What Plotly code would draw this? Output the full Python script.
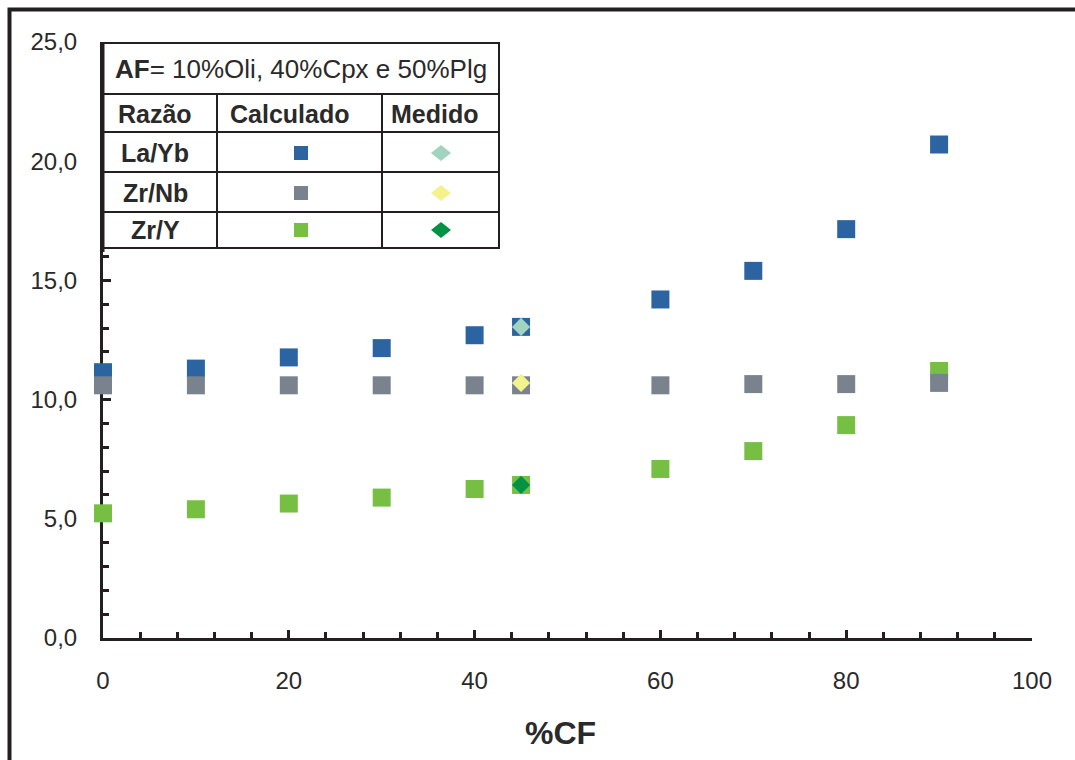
import plotly.graph_objects as go

# %CF (cristalização fracionada) steps
cf = [0, 10, 20, 30, 40, 45, 60, 70, 80, 90]

# calculated ratios
la_yb_calc = [11.15, 11.3, 11.77, 12.16, 12.7, 13.05, 14.2, 15.4, 17.15, 20.7]
zr_nb_calc = [10.6, 10.6, 10.6, 10.6, 10.6, 10.6, 10.6, 10.65, 10.65, 10.7]
zr_y_calc = [5.23, 5.40, 5.64, 5.89, 6.25, 6.42, 7.09, 7.84, 8.93, 11.2]

# measured ratios
cf_med = [45]
la_yb_med = [13.05]
zr_nb_med = [10.7]
zr_y_med = [6.42]

x_ticks = [0, 20, 40, 60, 80, 100]
y_ticks = [0, 5, 10, 15, 20, 25]

BLUE = "#2B64A0"
GRAY = "#7A838D"
GREEN = "#76BF43"
TEAL = "#A1D4C0"
YELLOW = "#F4F28C"
DKGREEN = "#009245"
INK = "#231F20"
TXT = "#2A2A2A"
FONT = "Liberation Sans, Arial, sans-serif"

W, H = 1075, 760
ML, MR, MT, MB = 103, 43, 42, 122
PW, PH = W - ML - MR, H - MT - MB


def fx(px):
    return (px - ML) / PW


def fy(py):
    return (H - MB - py) / PH


fig = go.Figure()

sq = dict(symbol="square", size=18)
fig.add_trace(go.Scatter(x=cf, y=la_yb_calc, mode="markers", cliponaxis=False,
                         marker=dict(color=BLUE, **sq), name="La/Yb calculado"))
fig.add_trace(go.Scatter(x=cf, y=zr_y_calc, mode="markers", cliponaxis=False,
                         marker=dict(color=GREEN, **sq), name="Zr/Y calculado"))
fig.add_trace(go.Scatter(x=cf, y=zr_nb_calc, mode="markers", cliponaxis=False,
                         marker=dict(color=GRAY, **sq), name="Zr/Nb calculado"))

dm = dict(symbol="diamond", size=14)
fig.add_trace(go.Scatter(x=cf_med, y=la_yb_med, mode="markers", cliponaxis=False,
                         marker=dict(color=TEAL, **dm), name="La/Yb medido"))
fig.add_trace(go.Scatter(x=cf_med, y=zr_nb_med, mode="markers", cliponaxis=False,
                         marker=dict(color=YELLOW, **dm), name="Zr/Nb medido"))
fig.add_trace(go.Scatter(x=cf_med, y=zr_y_med, mode="markers", cliponaxis=False,
                         marker=dict(color=DKGREEN, **dm), name="Zr/Y medido"))

shapes = []
annotations = []

# outer frame (runs off the right and bottom edges)
shapes.append(dict(type="rect", xref="paper", yref="paper",
                   x0=fx(9.5), x1=fx(W + 40), y0=fy(H + 40), y1=fy(9.5),
                   line=dict(color=INK, width=4), fillcolor="rgba(0,0,0,0)", layer="above"))

# key table
tl, tr = 103, 499
c1, c2 = 217, 382
rows = [43, 94, 132, 172, 212, 248]
shapes.append(dict(type="rect", xref="paper", yref="paper",
                   x0=fx(tl), x1=fx(tr), y0=fy(rows[-1]), y1=fy(rows[0]),
                   fillcolor="white", line=dict(color=INK, width=2), layer="above"))
for r in rows[1:-1]:
    shapes.append(dict(type="line", xref="paper", yref="paper",
                       x0=fx(tl), x1=fx(tr), y0=fy(r), y1=fy(r),
                       line=dict(color=INK, width=2), layer="above"))
for c in (c1, c2):
    shapes.append(dict(type="line", xref="paper", yref="paper",
                       x0=fx(c), x1=fx(c), y0=fy(rows[-1]), y1=fy(rows[1]),
                       line=dict(color=INK, width=2), layer="above"))
# left border of the table, heavier like the axis
shapes.append(dict(type="line", xref="paper", yref="paper",
                   x0=fx(tl), x1=fx(tl), y0=fy(rows[-1] + 4), y1=fy(rows[0]),
                   line=dict(color=INK, width=3), layer="above"))


def txt(x, y, s, size=25, bold=False):
    annotations.append(dict(xref="paper", yref="paper", x=fx(x), y=fy(y),
                            text=f"<b>{s}</b>" if bold else s, showarrow=False,
                            xanchor="center", yanchor="middle",
                            font=dict(family=FONT, size=size, color=TXT)))


txt(301, 69, "<b>AF</b>= 10%Oli, 40%Cpx e 50%Plg", size=26)
txt(155, 114, "Razão", bold=True)
txt(289, 114, "Calculado", bold=True)
txt(435, 114, "Medido", bold=True)

key_rows = [("La/Yb", BLUE, TEAL, 153), ("Zr/Nb", GRAY, YELLOW, 193), ("Zr/Y", GREEN, DKGREEN, 230)]
for label, csq, cdm, yy in key_rows:
    txt(155, yy, label, bold=True)
    shapes.append(dict(type="rect", xref="paper", yref="paper",
                       xsizemode="pixel", ysizemode="pixel",
                       xanchor=fx(301), yanchor=fy(yy),
                       x0=-7, x1=7, y0=-7, y1=7,
                       fillcolor=csq, line=dict(width=0), layer="above"))
    shapes.append(dict(type="path", xref="paper", yref="paper",
                       xsizemode="pixel", ysizemode="pixel",
                       xanchor=fx(441), yanchor=fy(yy),
                       path="M -10 0 L 0 8 L 10 0 L 0 -8 Z",
                       fillcolor=cdm, line=dict(width=0), layer="above"))

# x-axis title
txt(560, 733, "%CF", size=32, bold=True)

axis_common = dict(
    showline=True, linecolor=INK, linewidth=3, mirror=False,
    showgrid=False, zeroline=False,
    ticks="inside", ticklen=8, tickwidth=3, tickcolor=INK,
    tickfont=dict(family=FONT, size=24, color=TXT),
    layer="below traces",
)

fig.update_layout(
    width=W, height=H,
    margin=dict(l=ML, r=MR, t=MT, b=MB),
    paper_bgcolor="white", plot_bgcolor="white",
    showlegend=False,
    separators=",.",
    shapes=shapes, annotations=annotations,
    xaxis=dict(range=[0, 100], tickvals=x_ticks, ticktext=[str(v) for v in x_ticks],
               minor=dict(dtick=4, tick0=0, ticks="inside", ticklen=6, tickwidth=3, tickcolor=INK),
               ticklabelstandoff=19, **axis_common),
    yaxis=dict(range=[0, 25], tickvals=y_ticks, ticktext=[f"{v:.1f}".replace(".", ",") for v in y_ticks],
               minor=dict(dtick=1, tick0=0, ticks="inside", ticklen=6, tickwidth=3, tickcolor=INK),
               ticklabelstandoff=18, **axis_common),
)

fig.write_html("out.html")
